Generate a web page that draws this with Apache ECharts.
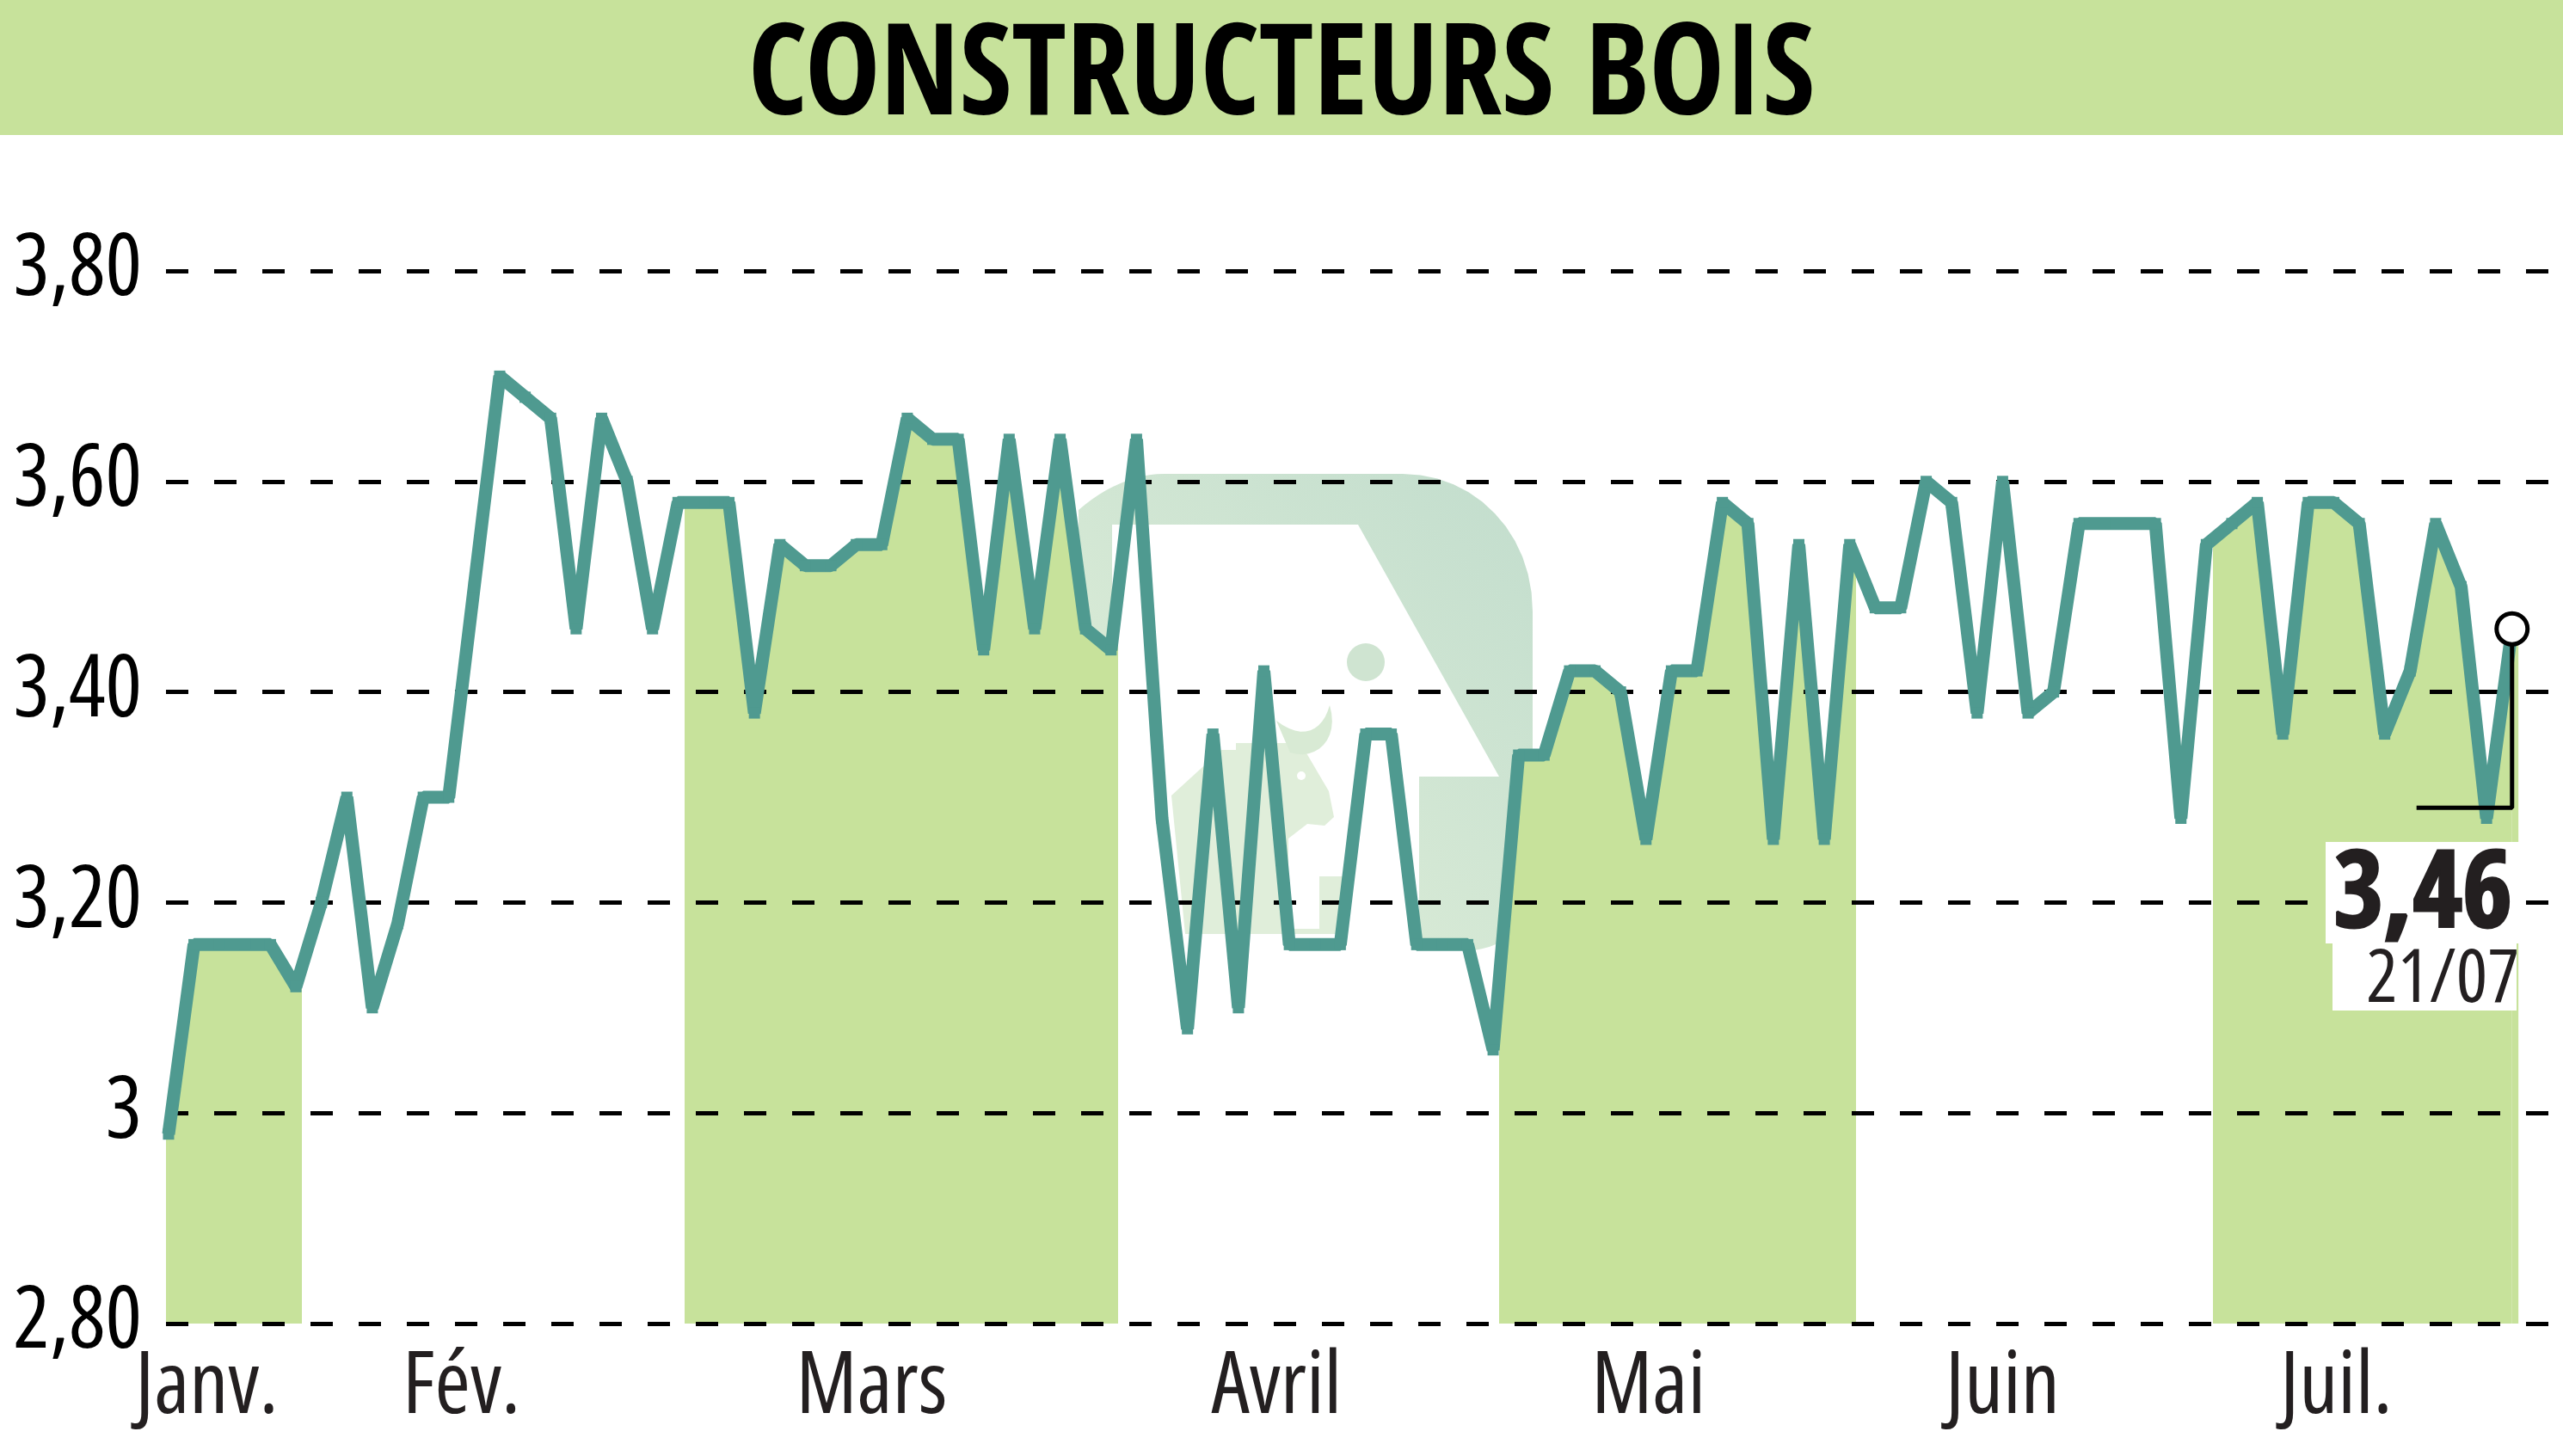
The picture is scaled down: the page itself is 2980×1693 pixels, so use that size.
<!DOCTYPE html>
<html>
<head>
<meta charset="utf-8">
<title>Constructeurs Bois</title>
<style>
  html, body { margin: 0; padding: 0; background: #fff; }
  #main { width: 2980px; height: 1693px; }
</style>
<script src="https://cdn.jsdelivr.net/npm/echarts@6/dist/echarts.min.js"></script>
</head>
<body>
<div id="main"></div>
<script>
const titleText = 'CONSTRUCTEURS BOIS';
const prices = [
  2.98, 3.16, 3.16, 3.16, 3.16, 3.12, 3.20, 3.30, 3.10, 3.18,
  3.30, 3.30, 3.50, 3.70, 3.68, 3.66, 3.46, 3.66, 3.60, 3.46,
  3.58, 3.58, 3.58, 3.38, 3.54, 3.52, 3.52, 3.54, 3.54, 3.66,
  3.64, 3.64, 3.44, 3.64, 3.46, 3.64, 3.46, 3.44, 3.64, 3.28,
  3.08, 3.36, 3.10, 3.42, 3.16, 3.16, 3.16, 3.36, 3.36, 3.16,
  3.16, 3.16, 3.06, 3.34, 3.34, 3.42, 3.42, 3.40, 3.26, 3.42,
  3.42, 3.58, 3.56, 3.26, 3.54, 3.26, 3.54, 3.48, 3.48, 3.60,
  3.58, 3.38, 3.60, 3.38, 3.40, 3.56, 3.56, 3.56, 3.56, 3.28,
  3.54, 3.56, 3.58, 3.36, 3.58, 3.58, 3.56, 3.36, 3.42, 3.56,
  3.50, 3.28, 3.46
];
const monthLabels = ['Janv.', 'Fév.', 'Mars', 'Avril', 'Mai', 'Juin', 'Juil.'];
const monthLabelPos = [1.5, 11.5, 27.6, 43.5, 58.1, 72, 85.1];
// shaded months, as [from, to] in trading-day positions
const shadedMonths = [[-1, 5.23], [20.25, 37.26], [52.25, 66.25], [80.25, 93]];
const lastValue = 3.46;
const lastDate = '21/07';
const calloutFoot = 3.29;
const calloutLeft = 88.25;

const green = '#c7e29b';
const teal = '#4f9a90';
const labelFont = '"Open Sans"';
const titleFont = '"Open Sans Condensed"';

function frNumber(v) {
  return Math.abs(v - 3) < 1e-6 ? '3' : v.toFixed(2).replace('.', ',');
}

// sample a cubic bezier for the logo outline
function curve(a, b, c, d) {
  let pts = [];
  for (let i = 0; i <= 12; i++) {
    let t = i / 12, u = 1 - t;
    pts.push([
      u * u * u * a[0] + 3 * u * u * t * b[0] + 3 * u * t * t * c[0] + t * t * t * d[0],
      u * u * u * a[1] + 3 * u * u * t * b[1] + 3 * u * t * t * c[1] + t * t * t * d[1]
    ]);
  }
  return pts;
}

// background logo, page pixels
function logoParts() {
  let fill = {
    type: 'linear', x: 0, y: 1, x2: 1, y2: 0,
    colorStops: [{ offset: 0, color: '#e2f0da' }, { offset: 1, color: '#c2ddcd' }]
  };
  let frame = [].concat(
    curve([1254, 593], [1285, 566], [1320, 551], [1353, 551]),
    curve([1631, 551], [1715, 551], [1782, 620], [1782, 711]),
    curve([1782, 1040], [1782, 1075], [1750, 1100], [1714, 1105]),
    [[1650, 1090], [1650, 903], [1743, 903], [1579, 610], [1293, 610], [1293, 760], [1254, 760]]
  );
  let bull = [[1362, 925], [1420, 872], [1437, 872], [1437, 864], [1500, 864], [1518, 874], [1545, 920], [1551, 950],
    [1540, 960], [1520, 958], [1498, 975], [1498, 1080], [1534, 1080], [1534, 1019], [1561, 1019], [1561, 1086], [1378, 1086]];
  let horn = curve([1484, 838], [1515, 862], [1538, 850], [1546, 820]).concat(curve([1546, 820], [1558, 860], [1530, 885], [1500, 875]));
  return [
    { type: 'polygon', z: 0, silent: true, shape: { points: frame }, style: { fill: fill } },
    { type: 'polygon', z: 0, silent: true, shape: { points: bull }, style: { fill: '#e0eeda' } },
    { type: 'polygon', z: 0, silent: true, shape: { points: horn }, style: { fill: '#d8ead4' } },
    { type: 'circle', z: 0, silent: true, shape: { cx: 1588, cy: 770, r: 22 }, style: { fill: '#cfe4d1' } },
    { type: 'circle', z: 0, silent: true, shape: { cx: 1513, cy: 902, r: 5 }, style: { fill: '#fff' } }
  ];
}

let option = {
  backgroundColor: '#fff',
  animation: false,
  title: {
    text: titleText,
    left: 'center',
    top: 7,
    textStyle: {
      fontFamily: titleFont,
      fontWeight: 'bold',
      fontSize: 147,
      color: '#000',
      lineHeight: 165
    }
  },
  grid: { left: 193, right: 0, top: 315, bottom: 154 },
  visualMap: {
    show: false,
    type: 'piecewise',
    seriesIndex: 0,
    dimension: 0,
    pieces: shadedMonths.map(m => ({ min: m[0], max: m[1], color: green })),
    outOfRange: { color: 'rgba(0,0,0,0)' }
  },
  xAxis: {
    type: 'value',
    min: -0.1,
    max: 94,
    axisLine: { show: false },
    axisTick: { show: false },
    splitLine: { show: false },
    axisLabel: {
      customValues: monthLabelPos,
      formatter: v => monthLabels[monthLabelPos.indexOf(v)],
      fontFamily: labelFont,
      fontWeight: 'condensed',
      fontSize: 100,
      color: '#231f20',
      margin: 26,
      hideOverlap: false
    }
  },
  yAxis: {
    type: 'value',
    min: 2.8,
    max: 3.8,
    interval: 0.2,
    z: 2,
    axisLine: { show: false },
    axisTick: { show: false },
    axisLabel: {
      formatter: frNumber,
      fontFamily: labelFont,
      fontWeight: 'condensed',
      fontSize: 100,
      color: '#000',
      margin: 28,
      padding: [6, 0, 0, 0]
    },
    splitLine: {
      lineStyle: { color: '#000', width: 5, type: [26, 30] }
    }
  },
  series: [
    {
      type: 'line',
      z: 1,
      silent: true,
      showSymbol: false,
      lineStyle: { width: 0 },
      areaStyle: { opacity: 1 },
      data: prices.map((v, i) => [i, v]),
      // the shading runs a little past the first and last quotes
      markArea: {
        silent: true,
        itemStyle: { color: green },
        data: [
          [{ coord: [-0.1, 2.8] }, { coord: [0, prices[0]] }],
          [{ coord: [prices.length - 1, 2.8] }, { coord: [92.25, lastValue] }]
        ]
      }
    },
    {
      type: 'line',
      z: 3,
      symbol: 'rect',
      symbolSize: 13,
      itemStyle: { color: teal },
      lineStyle: { color: teal, width: 15, join: 'bevel' },
      data: prices.map((v, i) => [i, v])
    },
    {
      // callout from the last quote
      type: 'line',
      z: 4,
      symbol: 'none',
      lineStyle: { color: '#000', width: 5 },
      data: [[calloutLeft, calloutFoot], [prices.length - 1, calloutFoot], [prices.length - 1, lastValue]],
      markPoint: {
        symbol: 'circle',
        symbolSize: 36,
        silent: true,
        itemStyle: { color: '#fff', borderColor: '#000', borderWidth: 5 },
        label: { show: false },
        data: [{ coord: [prices.length - 1, lastValue] }]
      }
    }
  ],
  graphic: [
    { type: 'rect', z: 0, silent: true, shape: { x: 0, y: 0, width: 2980, height: 157 }, style: { fill: green } }
  ].concat(logoParts()).concat([
    { type: 'rect', z: 10, shape: { x: 2704, y: 979, width: 225, height: 118 }, style: { fill: '#fff' } },
    { type: 'rect', z: 10, shape: { x: 2712, y: 1097, width: 214, height: 78 }, style: { fill: '#fff' } },
    {
      type: 'text', z: 11, x: 2921, y: 1108,
      style: {
        text: frNumber(lastValue), align: 'right', verticalAlign: 'bottom',
        font: 'bold 125px ' + titleFont, fill: '#231f20',
        stroke: '#231f20', lineWidth: 3
      }
    },
    {
      type: 'text', z: 11, x: 2929, y: 1183,
      style: {
        text: lastDate, align: 'right', verticalAlign: 'bottom',
        font: 'condensed 86px ' + labelFont, fill: '#231f20'
      }
    }
  ])
};

let myChart = echarts.init(document.getElementById('main'));
myChart.setOption(option);
</script>
</body>
</html>
